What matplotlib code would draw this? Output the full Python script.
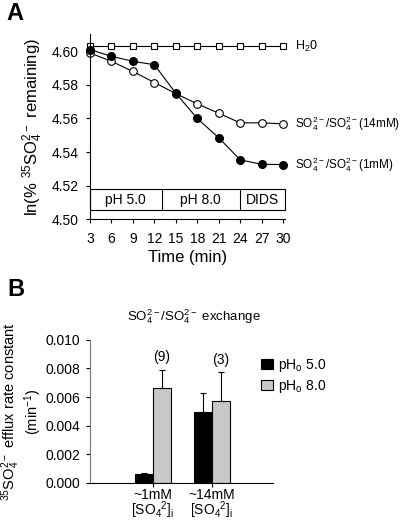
import matplotlib
matplotlib.use('Agg')
import matplotlib.pyplot as plt
from matplotlib.patches import Rectangle

plt.rcParams['font.family'] = ['Liberation Sans', 'DejaVu Sans']
plt.rcParams['mathtext.default'] = 'regular'

# --- dati pannello A ---
time_min = [3, 6, 9, 12, 15, 18, 21, 24, 27, 30]
h2o = [4.603, 4.603, 4.603, 4.603, 4.603, 4.603, 4.603, 4.603, 4.603, 4.603]
so4_1mM = [4.601, 4.597, 4.594, 4.592, 4.575, 4.560, 4.5485, 4.5354, 4.5327, 4.5326]
so4_14mM = [4.599, 4.594, 4.588, 4.5814, 4.5748, 4.5687, 4.5631, 4.5574, 4.5574, 4.5568]
a_yticks = [4.50, 4.52, 4.54, 4.56, 4.58, 4.60]
a_xticks = [3, 6, 9, 12, 15, 18, 21, 24, 27, 30]
phases = ['pH 5.0', 'pH 8.0', 'DIDS']
phase_edges = [3, 13, 24, 30.2]

# --- dati pannello B ---
groups = ['~1mM\n[SO$_4$$^2$]$_i$', '~14mM\n[SO$_4$$^2$]$_i$']
rate_ph5 = [0.00063, 0.00495]
err_ph5 = [0.00006, 0.00136]
rate_ph8 = [0.00664, 0.00571]
err_ph8 = [0.00126, 0.00202]
n_labels = ['(9)', '(3)']

fig = plt.figure(figsize=(4.06, 5.20), dpi=100)

# ---------------- Pannello A ----------------
ax = fig.add_axes([0.2217, 0.5783, 0.4803, 0.3554])
ax.plot(time_min, h2o, marker='s', color='black', mfc='white', ms=5, lw=0.8, mew=0.8, clip_on=False)
ax.plot(time_min, so4_14mM, marker='o', color='black', mfc='white', ms=5.5, lw=0.8, mew=0.8, clip_on=False)
ax.plot(time_min, so4_1mM, marker='o', color='black', mfc='black', ms=5.5, lw=0.8, clip_on=False)
ax.set_xlim(3, 30.27)
ax.set_ylim(4.50, 4.61)
ax.set_xticks(a_xticks)
ax.set_yticks(a_yticks)
ax.set_yticklabels(['%.2f' % v for v in a_yticks])
ax.tick_params(direction='out', length=3, width=0.8, labelsize=10)
ax.tick_params(axis='x', pad=6)
ax.tick_params(axis='y', pad=5)
for s in ['top', 'right']:
    ax.spines[s].set_visible(False)
ax.set_xlabel('Time (min)', fontsize=12, labelpad=3)
ax.set_ylabel('ln(% $^{35}$SO$_4^{2-}$ remaining)', fontsize=12, labelpad=5)

# riquadri delle fasi
y0, y1 = 4.5055, 4.518
ax.add_patch(Rectangle((phase_edges[0], y0), phase_edges[-1] - phase_edges[0], y1 - y0,
                       fill=False, lw=0.8, clip_on=False))
for e in phase_edges[1:-1]:
    ax.plot([e, e], [y0, y1], color='black', lw=0.8)
for i, p in enumerate(phases):
    ax.text((phase_edges[i] + phase_edges[i + 1]) / 2, (y0 + y1) / 2, p,
            ha='center', va='center', fontsize=10)

# etichette delle serie
ax.text(31.6, h2o[-1], 'H$_2$0', va='center', fontsize=9)
ax.text(31.6, so4_14mM[-1], 'SO$_4^{2-}$/SO$_4^{2-}$(14mM)', va='center', fontsize=8.5)
ax.text(31.6, so4_1mM[-1], 'SO$_4^{2-}$/SO$_4^{2-}$(1mM)', va='center', fontsize=8.5)

fig.text(0.017, 0.974, 'A', fontsize=17, fontweight='bold', va='center')

# ---------------- Pannello B ----------------
bx = fig.add_axes([0.2217, 0.072, 0.45, 0.2742])
pos = [1, 2]
w = 0.3
bx.bar([p - w / 2 for p in pos], rate_ph5, w, yerr=[[0, 0], err_ph5], color='black',
       edgecolor='black', lw=0.8, label='pH$_o$ 5.0', error_kw=dict(lw=0.8, capsize=2.5, capthick=0.8))
bx.bar([p + w / 2 for p in pos], rate_ph8, w, yerr=[[0, 0], err_ph8], color='#c8c8c8',
       edgecolor='black', lw=0.8, label='pH$_o$ 8.0', error_kw=dict(lw=0.8, capsize=2.5, capthick=0.8))
for i, t in enumerate(n_labels):
    top = max(rate_ph5[i] + err_ph5[i], rate_ph8[i] + err_ph8[i])
    bx.text(pos[i] + w / 2, top + 0.0004, t, ha='center', va='bottom', fontsize=10)
bx.set_xlim(-0.063, 3.03)
bx.set_ylim(0, 0.010)
bx.set_xticks(pos)
bx.set_xticklabels(groups, fontsize=7.5, linespacing=0.85)
bx.set_yticks([0, 0.002, 0.004, 0.006, 0.008, 0.010])
bx.set_yticklabels(['0.000', '0.002', '0.004', '0.006', '0.008', '0.010'])
bx.tick_params(direction='out', length=3, width=0.8, labelsize=10)
bx.tick_params(axis='x', pad=1)
bx.tick_params(axis='y', pad=4)
for s in ['top', 'right']:
    bx.spines[s].set_visible(False)
bx.spines['left'].set_color('#777777')
bx.set_ylabel('$^{35}$SO$_4^{2-}$ efflux rate constant\n(min$^{-1}$)', fontsize=10.5, labelpad=1,
              linespacing=1.0)
bx.set_title('SO$_4^{2-}$/SO$_4^{2-}$ exchange', fontsize=9.5, pad=14, x=0.57)
bx.legend(loc='upper left', bbox_to_anchor=(0.87, 0.97), frameon=False, fontsize=10,
          handlelength=0.8, handleheight=0.8, handletextpad=0.4, labelspacing=0.3)

fig.text(0.017, 0.443, 'B', fontsize=17, fontweight='bold', va='center')

plt.savefig('out.png', dpi=100)
